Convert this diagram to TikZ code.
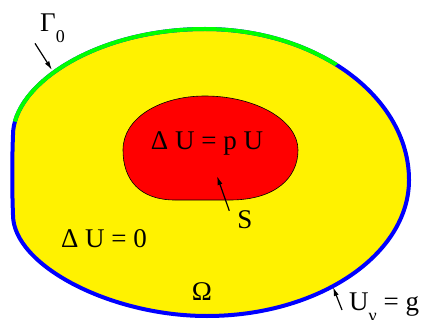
\documentclass[tikz,border=0pt]{standalone}
\usepackage{fontspec}
\setmainfont{Liberation Serif}
\usetikzlibrary{arrows.meta}

\newcommand{\domainpath}{(13,215) .. controls (12,190) and (12,160) .. (13,135) .. controls (13,85) and (95,29) .. (205,29) .. controls (317,29) and (409,97) .. (409,180) .. controls (409,255) and (318,316) .. (207,316) .. controls (110,316) and (13,265) .. (13,215) -- cycle}
\newcommand{\lowidx}[1]{\raisebox{-11pt}{\fontsize{18}{20}\selectfont #1}}

\begin{document}
\begin{tikzpicture}[x=1pt,y=-1pt,
    lbl/.style={font=\fontsize{27}{30}\selectfont,inner sep=0pt},
    pointer/.style={-{Latex[length=9pt,width=5pt]},line width=1.2pt}]
    \useasboundingbox (0,0) rectangle (427,320);
    \clip (0,0) rectangle (427,320);
    % Draw domain Omega with Neumann boundary
    \fill[yellow] \domainpath;
    \draw[blue,line width=4pt] \domainpath;
    % Draw Dirichlet part Gamma_0 on top
    \begin{scope}
        \clip (210,170) -- (-80,98) -- (-80,-60) -- (500,-60) -- (400,12) -- cycle;
        \draw[green,line width=4pt] \domainpath;
    \end{scope}
    % Draw inner region S
    \filldraw[fill=red,draw=black,line width=0.6pt] (123,150) .. controls (123,118) and (160,96) .. (205,96) .. controls (255,96) and (298,120) .. (298,150) .. controls (298,178) and (275,200) .. (230,200) -- (175,200) .. controls (140,200) and (123,180) .. (123,150) -- cycle;
    % Equations and labels
    \node[lbl] (eqs) at (207,143) {Δ U = p U};
    \node[lbl] (eqo) at (104,239) {Δ U = 0};
    \node[lbl] (om) at (202,292) {Ω};
    \node[lbl] (sl) at (245,220) {S};
    \node[lbl,anchor=base west] (gam) at (40,32) {Γ\lowidx{0}};
    \node[lbl,anchor=base west] (neu) at (349,310) {U\lowidx{ν} = g};
    % Pointers to the boundaries
    \coordinate (gamtip) at (52,70);
    \coordinate (stip) at (217,176);
    \coordinate (neutip) at (333,287);
    \draw[pointer] ([xshift=-5pt]gam.south west) -- (gamtip);
    \draw[pointer] ([xshift=-8pt]sl.north west) -- (stip);
    \draw[pointer] ([xshift=-7pt]neu.base west) -- (neutip);
\end{tikzpicture}
\end{document}
